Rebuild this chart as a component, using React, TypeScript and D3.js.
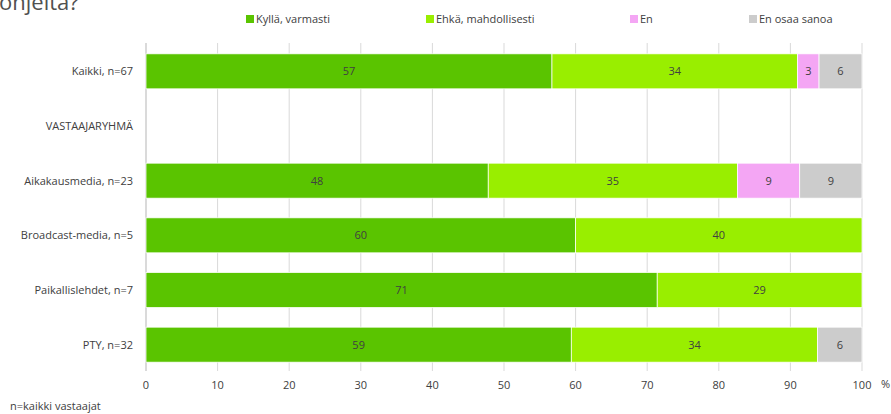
import React from "react";
import * as d3 from "d3";

const categories = [
  "Kaikki, n=67",
  "VASTAAJARYHMÄ",
  "Aikakausmedia, n=23",
  "Broadcast-media, n=5",
  "Paikallislehdet, n=7",
  "PTY, n=32",
];
const seriesNames = ["Kyllä, varmasti", "Ehkä, mahdollisesti", "En", "En osaa sanoa"];
const kylla = [56.7, 0, 47.8, 60, 71.4, 59.4];
const ehka = [34.3, 0, 34.8, 40, 28.6, 34.4];
const en = [3.0, 0, 8.7, 0, 0, 0];
const eos = [6.0, 0, 8.7, 0, 0, 6.2];
const xTicks = [0, 10, 20, 30, 40, 50, 60, 70, 80, 90, 100];
const colors = ["#5ac400", "#99ee00", "#f4a6f4", "#cccccc"];
const legendX = [246, 426, 630, 749];

const W = 891;
const H = 414;
const FONT = "'Open Sans', sans-serif";

export default function App() {
  const x = d3.scaleLinear().domain([0, 100]).range([146, 862]);
  const y = d3
    .scaleBand<string>()
    .domain(categories)
    .range([44, 372])
    .paddingInner(0.36)
    .paddingOuter(0.18);

  const rows = categories.map((c, i) => ({
    cat: c,
    k: kylla[i],
    e: ehka[i],
    n: en[i],
    o: eos[i],
  }));
  const stack = d3.stack<any>().keys(["k", "e", "n", "o"])(rows);

  return (
    <div style={{ position: "absolute", left: 0, top: 0 }}>
      <svg width={W} height={H} style={{ display: "block", fontFamily: FONT }}>
        <rect width={W} height={H} fill="#fff" />
        <text x={-1} y={10} fontSize={22} fill="#505050">ohjeita?</text>

        {seriesNames.map((s, i) => (
          <g key={s}>
            <rect x={legendX[i]} y={15} width={8} height={8} fill={colors[i]} />
            <text x={legendX[i] + 10} y={22.5} fontSize={11} fill="#404040">{s}</text>
          </g>
        ))}

        {xTicks.map((t) => (
          <line key={t} x1={x(t)} x2={x(t)} y1={43} y2={371} stroke="#d9d9d9" strokeWidth={1} />
        ))}
        <line x1={x(0)} x2={x(0)} y1={43} y2={371} stroke="#c8c8c8" strokeWidth={1} />

        {stack.map((layer, si) => (
          <g key={si}>
            {layer.map((d, ci) => {
              const w = x(d[1]) - x(d[0]);
              if (w <= 0) return null;
              const v = d[1] - d[0];
              const by = y(categories[ci])!;
              return (
                <g key={ci}>
                  <rect
                    x={x(d[0])}
                    y={by}
                    width={w}
                    height={y.bandwidth()}
                    fill={colors[si]}
                    stroke="#fff"
                    strokeWidth={0.75}
                  />
                  <text
                    x={x(d[0]) + w / 2}
                    y={by + y.bandwidth() / 2 + 4}
                    textAnchor="middle"
                    fontSize={11}
                    fill="#404040"
                  >
                    {Math.round(v)}
                  </text>
                </g>
              );
            })}
          </g>
        ))}

        {categories.map((c) => (
          <text
            key={c}
            x={133}
            y={y(c)! + y.bandwidth() / 2 + 4}
            textAnchor="end"
            fontSize={11}
            fill="#404040"
          >
            {c}
          </text>
        ))}

        {xTicks.map((t) => (
          <text key={t} x={x(t)} y={389} textAnchor="middle" fontSize={11} fill="#404040">
            {t}
          </text>
        ))}
        <text x={881} y={388} fontSize={11} fill="#404040">%</text>
        <text x={10} y={410} fontSize={11} fill="#404040">n=kaikki vastaajat</text>
      </svg>
    </div>
  );
}
